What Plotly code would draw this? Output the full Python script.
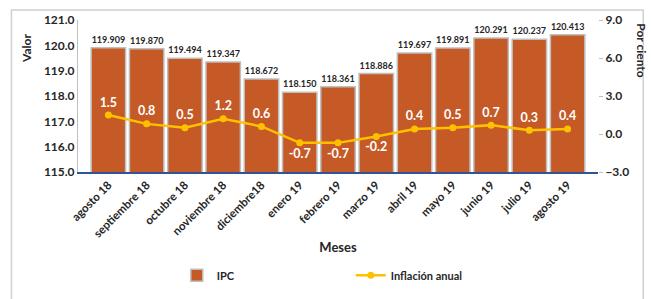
import plotly.graph_objects as go

meses = ["agosto 18", "septiembre 18", "octubre 18", "noviembre 18", "diciembre18",
         "enero 19", "febrero 19", "marzo 19", "abril 19", "mayo 19", "junio 19",
         "julio 19", "agosto 19"]
ipc = [119.909, 119.870, 119.494, 119.347, 118.672, 118.150, 118.361, 118.886,
       119.697, 119.891, 120.291, 120.237, 120.413]
inflacion = [1.5, 0.8, 0.5, 1.2, 0.6, -0.7, -0.7, -0.2, 0.4, 0.5, 0.7, 0.3, 0.4]

FONT = "Lato"
fig = go.Figure()
fig.add_trace(go.Bar(
    x=meses, y=ipc, name="IPC",
    marker=dict(color="#C55A27", line=dict(color="#BFBFBF", width=1.5)),
    text=[f"{v:.3f}" for v in ipc], textposition="outside",
    textfont=dict(family=FONT, size=9, color="#262626", weight="bold"),
    cliponaxis=False,
))
fig.add_trace(go.Scatter(
    x=meses, y=inflacion, name="Inflación anual", yaxis="y2",
    mode="lines+markers+text",
    line=dict(color="#FFC000", width=2.5),
    marker=dict(color="#FFC000", size=7),
    text=[f"{v:.1f}" for v in inflacion],
    textposition=["bottom center" if v < 0 else "top center" for v in inflacion],
    textfont=dict(family=FONT, size=12.5, color="white", weight="bold"),
    cliponaxis=False,
))
fig.update_layout(
    width=651, height=299,
    margin=dict(l=78, r=53, t=20, b=127, autoexpand=False),
    paper_bgcolor="white", plot_bgcolor="white",
    font=dict(family=FONT, color="#262626"),
    bargap=0.1,
    showlegend=True,
    legend=dict(orientation="h", x=0.19, xanchor="left", y=-0.68, yanchor="middle",
                font=dict(family=FONT, size=11, color="#262626", weight="bold"),
                entrywidth=129, traceorder="normal"),
    xaxis=dict(showline=True, linecolor="#2F5597", linewidth=2, tickangle=-45,
               automargin=False,
               tickfont=dict(family=FONT, size=11.5, color="#262626", weight="bold"), ticks="",
               title=dict(text="Meses", font=dict(family=FONT, size=13, weight="bold"), standoff=4)),
    yaxis=dict(range=[115, 121], dtick=1, tickformat=".1f", showgrid=False, automargin=False,
               showline=True, linecolor="#BFBFBF", linewidth=1, ticks="",
               tickfont=dict(family=FONT, size=12, color="#262626", weight="bold"), zeroline=False),
    yaxis2=dict(range=[-3, 9], dtick=3, tickformat=".1f", overlaying="y", side="right",
                showgrid=False, zeroline=False, ticks="outside", ticklen=4, automargin=False,
                tickcolor="#BFBFBF", showline=False,
                tickfont=dict(family=FONT, size=12, color="#262626", weight="bold")),
    shapes=[dict(type="rect", xref="paper", yref="paper", x0=-0.128, x1=1.087,
                 y0=-0.98, y1=1.065, line=dict(color="#D0D0D0", width=1.5),
                 fillcolor="rgba(0,0,0,0)", layer="below")],
    annotations=[
        dict(text="Valor", xref="paper", yref="paper", x=-0.098, y=0.81,
             xanchor="center", yanchor="middle",
             textangle=-90, showarrow=False, font=dict(family=FONT, size=12, weight="bold")),
        dict(text="Por ciento", xref="paper", yref="paper", x=1.083, y=0.80,
             xanchor="center", yanchor="middle",
             textangle=90, showarrow=False, font=dict(family=FONT, size=12, weight="bold")),
    ],
)
fig.write_html("out.html", config={"displayModeBar": False},
               post_script="document.body.style.margin='0';document.body.style.overflow='hidden';")
